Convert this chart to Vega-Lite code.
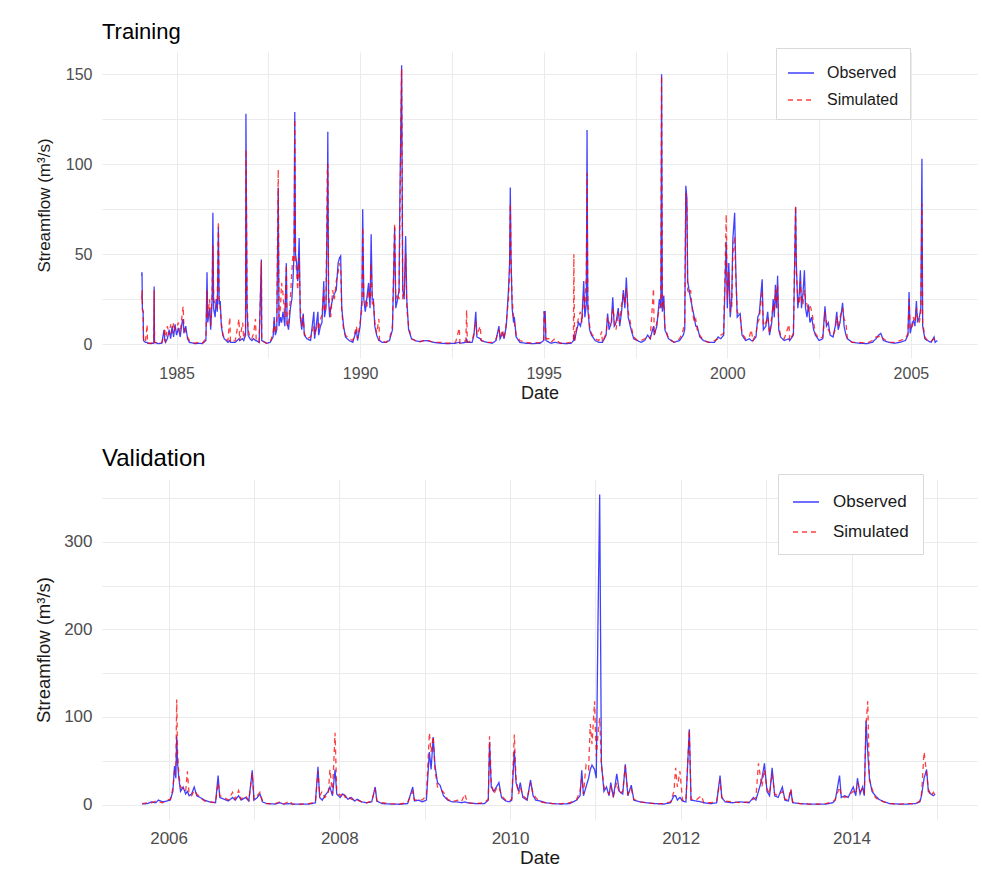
{
"$schema": "https://vega.github.io/schema/vega-lite/v6.json",
"background": "white",
"padding": {"left": 34, "top": 20, "right": 7, "bottom": 5},
"spacing": 44,
"config": {
  "font": "Liberation Sans",
  "view": {"stroke": null},
  "axis": {"grid": true, "gridColor": "#EBEBEB", "gridWidth": 1, "domain": false, "ticks": false, "labelColor": "#4D4D4D", "titleColor": "#1A1A1A", "titleFontWeight": "normal", "labelFont": "Liberation Sans", "titleFont": "Liberation Sans"},
  "title": {"anchor": "start", "frame": "group", "fontWeight": "normal", "color": "#000000", "font": "Liberation Sans"},
  "legend": {"symbolType": "stroke", "symbolSize": 676, "symbolStrokeWidth": 1.5, "labelColor": "#1A1A1A", "strokeColor": "#D9D9D9", "fillColor": "white", "labelFont": "Liberation Sans"}
},
"resolve": {"scale": {"x": "independent", "y": "independent", "color": "independent", "strokeDash": "independent"}, "legend": {"color": "independent", "strokeDash": "independent"}},
"datasets": {
"training": [
{"t":1984.05,"Observed":38,"Simulated":25},{"t":1984.06,"Observed":40,"Simulated":30},{"t":1984.07,"Observed":20,"Simulated":19},{"t":1984.09,"Observed":18,"Simulated":18},{"t":1984.10,"Observed":2,"Simulated":3},{"t":1984.15,"Observed":1,"Simulated":1},{"t":1984.20,"Observed":1,"Simulated":11},{"t":1984.21,"Observed":0.5,"Simulated":0.5},{"t":1984.30,"Observed":0.3,"Simulated":0.5},{"t":1984.38,"Observed":0.5,"Simulated":1},{"t":1984.39,"Observed":32,"Simulated":30},{"t":1984.40,"Observed":1,"Simulated":1},{"t":1984.5,"Observed":0.3,"Simulated":0.5},{"t":1984.6,"Observed":0.5,"Simulated":1},{"t":1984.66,"Observed":8,"Simulated":5},{"t":1984.68,"Observed":2,"Simulated":9},{"t":1984.70,"Observed":1,"Simulated":1},{"t":1984.75,"Observed":3,"Simulated":10},{"t":1984.8,"Observed":8,"Simulated":5},{"t":1984.84,"Observed":3,"Simulated":11},{"t":1984.88,"Observed":10,"Simulated":6},{"t":1984.92,"Observed":4,"Simulated":12},{"t":1984.96,"Observed":11,"Simulated":8},{"t":1985.0,"Observed":5,"Simulated":9},{"t":1985.05,"Observed":9,"Simulated":12},{"t":1985.1,"Observed":4,"Simulated":6},{"t":1985.15,"Observed":12,"Simulated":16},{"t":1985.18,"Observed":14,"Simulated":21},{"t":1985.2,"Observed":6,"Simulated":10},{"t":1985.25,"Observed":10,"Simulated":7},{"t":1985.3,"Observed":3,"Simulated":4},{"t":1985.35,"Observed":1,"Simulated":2},{"t":1985.5,"Observed":0.3,"Simulated":0.5},{"t":1985.6,"Observed":0.5,"Simulated":1},{"t":1985.7,"Observed":0.3,"Simulated":0.5},{"t":1985.8,"Observed":2,"Simulated":3},{"t":1985.83,"Observed":40,"Simulated":30},{"t":1985.85,"Observed":12,"Simulated":15},{"t":1985.9,"Observed":20,"Simulated":25},{"t":1985.93,"Observed":8,"Simulated":10},{"t":1985.97,"Observed":25,"Simulated":30},{"t":1985.99,"Observed":73,"Simulated":55},{"t":1986.01,"Observed":20,"Simulated":25},{"t":1986.05,"Observed":15,"Simulated":22},{"t":1986.08,"Observed":25,"Simulated":20},{"t":1986.11,"Observed":18,"Simulated":25},{"t":1986.14,"Observed":65,"Simulated":68},{"t":1986.16,"Observed":22,"Simulated":25},{"t":1986.19,"Observed":24,"Simulated":20},{"t":1986.22,"Observed":10,"Simulated":12},{"t":1986.26,"Observed":5,"Simulated":6},{"t":1986.3,"Observed":3,"Simulated":3},{"t":1986.4,"Observed":1,"Simulated":2},{"t":1986.45,"Observed":2,"Simulated":15},{"t":1986.47,"Observed":1,"Simulated":1},{"t":1986.6,"Observed":1,"Simulated":2},{"t":1986.7,"Observed":3,"Simulated":14},{"t":1986.72,"Observed":2,"Simulated":2},{"t":1986.8,"Observed":3,"Simulated":12},{"t":1986.83,"Observed":2,"Simulated":3},{"t":1986.88,"Observed":5,"Simulated":8},{"t":1986.89,"Observed":128,"Simulated":108},{"t":1986.9,"Observed":91,"Simulated":90},{"t":1986.92,"Observed":20,"Simulated":25},{"t":1986.95,"Observed":5,"Simulated":8},{"t":1987.0,"Observed":3,"Simulated":4},{"t":1987.05,"Observed":2,"Simulated":3},{"t":1987.1,"Observed":3,"Simulated":6},{"t":1987.15,"Observed":2,"Simulated":14},{"t":1987.17,"Observed":2,"Simulated":2},{"t":1987.25,"Observed":1,"Simulated":1},{"t":1987.31,"Observed":47,"Simulated":46},{"t":1987.32,"Observed":2,"Simulated":2},{"t":1987.45,"Observed":0.5,"Simulated":0.5},{"t":1987.55,"Observed":1,"Simulated":1},{"t":1987.63,"Observed":4,"Simulated":6},{"t":1987.66,"Observed":15,"Simulated":13},{"t":1987.69,"Observed":5,"Simulated":6},{"t":1987.73,"Observed":8,"Simulated":12},{"t":1987.77,"Observed":87,"Simulated":97},{"t":1987.79,"Observed":10,"Simulated":15},{"t":1987.83,"Observed":15,"Simulated":20},{"t":1987.86,"Observed":12,"Simulated":34},{"t":1987.9,"Observed":18,"Simulated":28},{"t":1987.95,"Observed":10,"Simulated":15},{"t":1987.99,"Observed":45,"Simulated":44},{"t":1988.01,"Observed":12,"Simulated":10},{"t":1988.05,"Observed":8,"Simulated":10},{"t":1988.1,"Observed":20,"Simulated":25},{"t":1988.14,"Observed":25,"Simulated":40},{"t":1988.17,"Observed":35,"Simulated":50},{"t":1988.2,"Observed":50,"Simulated":45},{"t":1988.22,"Observed":129,"Simulated":125},{"t":1988.24,"Observed":50,"Simulated":48},{"t":1988.27,"Observed":45,"Simulated":40},{"t":1988.3,"Observed":35,"Simulated":30},{"t":1988.34,"Observed":59,"Simulated":48},{"t":1988.37,"Observed":15,"Simulated":20},{"t":1988.41,"Observed":8,"Simulated":10},{"t":1988.45,"Observed":17,"Simulated":16},{"t":1988.48,"Observed":5,"Simulated":6},{"t":1988.55,"Observed":3,"Simulated":3},{"t":1988.65,"Observed":2,"Simulated":4},{"t":1988.74,"Observed":18,"Simulated":10},{"t":1988.76,"Observed":3,"Simulated":5},{"t":1988.85,"Observed":18,"Simulated":12},{"t":1988.87,"Observed":5,"Simulated":8},{"t":1988.92,"Observed":10,"Simulated":14},{"t":1988.96,"Observed":12,"Simulated":16},{"t":1989.01,"Observed":35,"Simulated":30},{"t":1989.03,"Observed":15,"Simulated":18},{"t":1989.07,"Observed":20,"Simulated":22},{"t":1989.11,"Observed":86,"Simulated":100},{"t":1989.12,"Observed":118,"Simulated":99},{"t":1989.14,"Observed":25,"Simulated":30},{"t":1989.17,"Observed":15,"Simulated":20},{"t":1989.2,"Observed":20,"Simulated":15},{"t":1989.25,"Observed":25,"Simulated":30},{"t":1989.3,"Observed":28,"Simulated":25},{"t":1989.35,"Observed":30,"Simulated":35},{"t":1989.4,"Observed":45,"Simulated":40},{"t":1989.44,"Observed":48,"Simulated":45},{"t":1989.47,"Observed":49,"Simulated":42},{"t":1989.5,"Observed":20,"Simulated":18},{"t":1989.55,"Observed":10,"Simulated":8},{"t":1989.6,"Observed":4,"Simulated":5},{"t":1989.7,"Observed":2,"Simulated":3},{"t":1989.8,"Observed":1,"Simulated":2},{"t":1989.9,"Observed":8,"Simulated":10},{"t":1989.93,"Observed":2,"Simulated":3},{"t":1990.0,"Observed":10,"Simulated":12},{"t":1990.05,"Observed":25,"Simulated":20},{"t":1990.07,"Observed":75,"Simulated":65},{"t":1990.1,"Observed":25,"Simulated":25},{"t":1990.14,"Observed":18,"Simulated":24},{"t":1990.18,"Observed":25,"Simulated":20},{"t":1990.23,"Observed":34,"Simulated":30},{"t":1990.27,"Observed":20,"Simulated":25},{"t":1990.3,"Observed":61,"Simulated":45},{"t":1990.33,"Observed":25,"Simulated":22},{"t":1990.36,"Observed":25,"Simulated":24},{"t":1990.4,"Observed":10,"Simulated":12},{"t":1990.45,"Observed":5,"Simulated":6},{"t":1990.51,"Observed":2,"Simulated":14},{"t":1990.53,"Observed":2,"Simulated":2},{"t":1990.6,"Observed":1,"Simulated":2},{"t":1990.7,"Observed":1,"Simulated":1},{"t":1990.8,"Observed":2,"Simulated":3},{"t":1990.88,"Observed":8,"Simulated":10},{"t":1990.94,"Observed":65,"Simulated":67},{"t":1990.97,"Observed":20,"Simulated":25},{"t":1991.02,"Observed":25,"Simulated":28},{"t":1991.06,"Observed":30,"Simulated":25},{"t":1991.08,"Observed":77,"Simulated":64},{"t":1991.13,"Observed":155,"Simulated":153},{"t":1991.16,"Observed":30,"Simulated":25},{"t":1991.2,"Observed":25,"Simulated":28},{"t":1991.24,"Observed":60,"Simulated":50},{"t":1991.27,"Observed":25,"Simulated":20},{"t":1991.32,"Observed":8,"Simulated":10},{"t":1991.4,"Observed":3,"Simulated":3},{"t":1991.5,"Observed":2,"Simulated":2},{"t":1991.6,"Observed":1.5,"Simulated":1},{"t":1991.8,"Observed":2,"Simulated":2.5},{"t":1992.0,"Observed":1,"Simulated":1},{"t":1992.2,"Observed":0.5,"Simulated":1},{"t":1992.4,"Observed":0.3,"Simulated":0.5},{"t":1992.6,"Observed":0.5,"Simulated":1},{"t":1992.7,"Observed":1,"Simulated":9},{"t":1992.72,"Observed":0.5,"Simulated":0.5},{"t":1992.88,"Observed":1,"Simulated":2},{"t":1992.9,"Observed":3,"Simulated":19},{"t":1992.92,"Observed":1,"Simulated":1},{"t":1993.05,"Observed":1,"Simulated":2},{"t":1993.1,"Observed":5,"Simulated":6},{"t":1993.15,"Observed":18,"Simulated":13},{"t":1993.18,"Observed":4,"Simulated":5},{"t":1993.27,"Observed":3,"Simulated":10},{"t":1993.3,"Observed":2,"Simulated":2},{"t":1993.45,"Observed":1,"Simulated":1},{"t":1993.6,"Observed":0.5,"Simulated":1},{"t":1993.7,"Observed":2,"Simulated":3},{"t":1993.78,"Observed":10,"Simulated":8},{"t":1993.81,"Observed":3,"Simulated":4},{"t":1993.88,"Observed":6,"Simulated":8},{"t":1993.92,"Observed":3,"Simulated":3},{"t":1993.98,"Observed":10,"Simulated":12},{"t":1994.04,"Observed":30,"Simulated":25},{"t":1994.07,"Observed":45,"Simulated":40},{"t":1994.09,"Observed":87,"Simulated":78},{"t":1994.11,"Observed":48,"Simulated":45},{"t":1994.14,"Observed":20,"Simulated":25},{"t":1994.18,"Observed":12,"Simulated":15},{"t":1994.2,"Observed":15,"Simulated":12},{"t":1994.25,"Observed":4,"Simulated":5},{"t":1994.35,"Observed":1,"Simulated":2},{"t":1994.5,"Observed":0.5,"Simulated":1},{"t":1994.7,"Observed":0.3,"Simulated":0.5},{"t":1994.9,"Observed":0.5,"Simulated":1},{"t":1995.0,"Observed":2,"Simulated":2},{"t":1995.01,"Observed":18,"Simulated":18},{"t":1995.04,"Observed":18,"Simulated":15},{"t":1995.06,"Observed":2,"Simulated":3},{"t":1995.15,"Observed":1,"Simulated":3},{"t":1995.2,"Observed":0.5,"Simulated":1},{"t":1995.3,"Observed":1,"Simulated":3},{"t":1995.45,"Observed":0.5,"Simulated":0.5},{"t":1995.6,"Observed":0.3,"Simulated":0.5},{"t":1995.75,"Observed":0.5,"Simulated":1},{"t":1995.81,"Observed":2,"Simulated":3},{"t":1995.82,"Observed":5,"Simulated":50},{"t":1995.84,"Observed":2,"Simulated":2},{"t":1995.9,"Observed":8,"Simulated":10},{"t":1995.95,"Observed":12,"Simulated":15},{"t":1996.0,"Observed":10,"Simulated":18},{"t":1996.04,"Observed":14,"Simulated":12},{"t":1996.09,"Observed":35,"Simulated":28},{"t":1996.12,"Observed":15,"Simulated":20},{"t":1996.16,"Observed":22,"Simulated":38},{"t":1996.18,"Observed":119,"Simulated":95},{"t":1996.2,"Observed":20,"Simulated":25},{"t":1996.25,"Observed":8,"Simulated":10},{"t":1996.3,"Observed":5,"Simulated":6},{"t":1996.4,"Observed":2,"Simulated":3},{"t":1996.5,"Observed":1,"Simulated":2},{"t":1996.58,"Observed":1,"Simulated":7},{"t":1996.6,"Observed":1,"Simulated":1},{"t":1996.7,"Observed":5,"Simulated":6},{"t":1996.74,"Observed":17,"Simulated":15},{"t":1996.78,"Observed":8,"Simulated":12},{"t":1996.84,"Observed":12,"Simulated":10},{"t":1996.88,"Observed":26,"Simulated":20},{"t":1996.92,"Observed":10,"Simulated":14},{"t":1996.97,"Observed":12,"Simulated":8},{"t":1997.03,"Observed":20,"Simulated":18},{"t":1997.07,"Observed":10,"Simulated":12},{"t":1997.12,"Observed":18,"Simulated":22},{"t":1997.17,"Observed":30,"Simulated":28},{"t":1997.21,"Observed":20,"Simulated":22},{"t":1997.25,"Observed":37,"Simulated":31},{"t":1997.3,"Observed":15,"Simulated":18},{"t":1997.38,"Observed":8,"Simulated":10},{"t":1997.45,"Observed":3,"Simulated":4},{"t":1997.55,"Observed":2,"Simulated":2},{"t":1997.65,"Observed":1,"Simulated":2},{"t":1997.75,"Observed":2,"Simulated":3},{"t":1997.83,"Observed":5,"Simulated":4},{"t":1997.9,"Observed":3,"Simulated":3},{"t":1997.99,"Observed":10,"Simulated":31},{"t":1998.01,"Observed":5,"Simulated":5},{"t":1998.08,"Observed":10,"Simulated":12},{"t":1998.15,"Observed":25,"Simulated":20},{"t":1998.19,"Observed":20,"Simulated":22},{"t":1998.21,"Observed":150,"Simulated":149},{"t":1998.23,"Observed":18,"Simulated":20},{"t":1998.27,"Observed":27,"Simulated":24},{"t":1998.3,"Observed":8,"Simulated":10},{"t":1998.4,"Observed":3,"Simulated":3},{"t":1998.55,"Observed":1,"Simulated":1},{"t":1998.7,"Observed":2,"Simulated":3},{"t":1998.8,"Observed":5,"Simulated":8},{"t":1998.84,"Observed":8,"Simulated":12},{"t":1998.87,"Observed":88,"Simulated":84},{"t":1998.9,"Observed":81,"Simulated":75},{"t":1998.92,"Observed":35,"Simulated":30},{"t":1998.96,"Observed":30,"Simulated":28},{"t":1999.0,"Observed":25,"Simulated":30},{"t":1999.05,"Observed":20,"Simulated":18},{"t":1999.1,"Observed":15,"Simulated":12},{"t":1999.14,"Observed":10,"Simulated":14},{"t":1999.18,"Observed":10,"Simulated":8},{"t":1999.25,"Observed":4,"Simulated":5},{"t":1999.35,"Observed":2,"Simulated":2},{"t":1999.5,"Observed":1,"Simulated":1},{"t":1999.65,"Observed":1,"Simulated":2},{"t":1999.75,"Observed":4,"Simulated":3},{"t":1999.82,"Observed":3,"Simulated":5},{"t":1999.9,"Observed":5,"Simulated":6},{"t":1999.97,"Observed":57,"Simulated":72},{"t":2000.0,"Observed":20,"Simulated":25},{"t":2000.04,"Observed":45,"Simulated":40},{"t":2000.08,"Observed":15,"Simulated":18},{"t":2000.12,"Observed":25,"Simulated":20},{"t":2000.15,"Observed":58,"Simulated":50},{"t":2000.2,"Observed":73,"Simulated":60},{"t":2000.23,"Observed":42,"Simulated":38},{"t":2000.27,"Observed":15,"Simulated":18},{"t":2000.35,"Observed":17,"Simulated":15},{"t":2000.4,"Observed":5,"Simulated":6},{"t":2000.5,"Observed":2,"Simulated":3},{"t":2000.6,"Observed":3,"Simulated":4},{"t":2000.65,"Observed":2,"Simulated":8},{"t":2000.7,"Observed":2,"Simulated":2},{"t":2000.78,"Observed":4,"Simulated":6},{"t":2000.83,"Observed":15,"Simulated":12},{"t":2000.87,"Observed":17,"Simulated":14},{"t":2000.95,"Observed":36,"Simulated":30},{"t":2000.98,"Observed":8,"Simulated":10},{"t":2001.05,"Observed":10,"Simulated":12},{"t":2001.1,"Observed":18,"Simulated":15},{"t":2001.15,"Observed":5,"Simulated":6},{"t":2001.21,"Observed":12,"Simulated":15},{"t":2001.25,"Observed":25,"Simulated":22},{"t":2001.28,"Observed":15,"Simulated":18},{"t":2001.31,"Observed":33,"Simulated":30},{"t":2001.34,"Observed":20,"Simulated":22},{"t":2001.37,"Observed":38,"Simulated":33},{"t":2001.4,"Observed":8,"Simulated":10},{"t":2001.45,"Observed":4,"Simulated":5},{"t":2001.55,"Observed":2,"Simulated":3},{"t":2001.68,"Observed":3,"Simulated":11},{"t":2001.7,"Observed":2,"Simulated":2},{"t":2001.8,"Observed":5,"Simulated":6},{"t":2001.86,"Observed":76,"Simulated":77},{"t":2001.88,"Observed":45,"Simulated":40},{"t":2001.92,"Observed":20,"Simulated":25},{"t":2001.96,"Observed":28,"Simulated":22},{"t":2001.99,"Observed":41,"Simulated":35},{"t":2002.02,"Observed":20,"Simulated":25},{"t":2002.06,"Observed":28,"Simulated":22},{"t":2002.1,"Observed":41,"Simulated":30},{"t":2002.13,"Observed":20,"Simulated":25},{"t":2002.17,"Observed":15,"Simulated":22},{"t":2002.21,"Observed":22,"Simulated":18},{"t":2002.25,"Observed":12,"Simulated":22},{"t":2002.3,"Observed":15,"Simulated":18},{"t":2002.35,"Observed":8,"Simulated":12},{"t":2002.4,"Observed":5,"Simulated":6},{"t":2002.5,"Observed":2,"Simulated":3},{"t":2002.6,"Observed":3,"Simulated":4},{"t":2002.66,"Observed":21,"Simulated":18},{"t":2002.7,"Observed":10,"Simulated":12},{"t":2002.75,"Observed":12,"Simulated":8},{"t":2002.8,"Observed":5,"Simulated":6},{"t":2002.88,"Observed":4,"Simulated":5},{"t":2002.94,"Observed":10,"Simulated":8},{"t":2002.98,"Observed":18,"Simulated":15},{"t":2003.02,"Observed":8,"Simulated":10},{"t":2003.07,"Observed":12,"Simulated":15},{"t":2003.14,"Observed":23,"Simulated":20},{"t":2003.18,"Observed":10,"Simulated":14},{"t":2003.23,"Observed":5,"Simulated":12},{"t":2003.27,"Observed":3,"Simulated":3},{"t":2003.4,"Observed":1,"Simulated":1},{"t":2003.6,"Observed":0.5,"Simulated":1},{"t":2003.8,"Observed":0.3,"Simulated":0.5},{"t":2003.95,"Observed":1,"Simulated":2},{"t":2004.05,"Observed":3,"Simulated":4},{"t":2004.12,"Observed":5,"Simulated":4},{"t":2004.18,"Observed":6,"Simulated":5},{"t":2004.25,"Observed":2,"Simulated":3},{"t":2004.4,"Observed":1,"Simulated":1},{"t":2004.55,"Observed":0.5,"Simulated":1},{"t":2004.7,"Observed":1,"Simulated":2},{"t":2004.85,"Observed":2,"Simulated":3},{"t":2004.92,"Observed":5,"Simulated":6},{"t":2004.95,"Observed":29,"Simulated":25},{"t":2004.98,"Observed":6,"Simulated":8},{"t":2005.04,"Observed":12,"Simulated":10},{"t":2005.07,"Observed":13,"Simulated":15},{"t":2005.11,"Observed":10,"Simulated":12},{"t":2005.15,"Observed":24,"Simulated":20},{"t":2005.18,"Observed":12,"Simulated":15},{"t":2005.23,"Observed":15,"Simulated":12},{"t":2005.27,"Observed":20,"Simulated":18},{"t":2005.3,"Observed":103,"Simulated":78},{"t":2005.32,"Observed":10,"Simulated":12},{"t":2005.38,"Observed":3,"Simulated":4},{"t":2005.45,"Observed":2,"Simulated":2},{"t":2005.55,"Observed":1,"Simulated":1.5},{"t":2005.63,"Observed":4,"Simulated":3},{"t":2005.66,"Observed":1,"Simulated":2},{"t":2005.72,"Observed":2,"Simulated":3}
],
"validation": [
{"t":2005.69,"Observed":0.5,"Simulated":1},{"t":2005.75,"Observed":1,"Simulated":2},{"t":2005.8,"Observed":3,"Simulated":2},{"t":2005.85,"Observed":2,"Simulated":4},{"t":2005.88,"Observed":5,"Simulated":3},{"t":2005.93,"Observed":3,"Simulated":2},{"t":2005.98,"Observed":4,"Simulated":5},{"t":2006.02,"Observed":5,"Simulated":6},{"t":2006.05,"Observed":15,"Simulated":18},{"t":2006.07,"Observed":44,"Simulated":40},{"t":2006.085,"Observed":30,"Simulated":45},{"t":2006.095,"Observed":78,"Simulated":120},{"t":2006.105,"Observed":48,"Simulated":60},{"t":2006.12,"Observed":30,"Simulated":35},{"t":2006.14,"Observed":15,"Simulated":20},{"t":2006.17,"Observed":20,"Simulated":18},{"t":2006.2,"Observed":12,"Simulated":15},{"t":2006.22,"Observed":15,"Simulated":38},{"t":2006.24,"Observed":10,"Simulated":12},{"t":2006.27,"Observed":12,"Simulated":10},{"t":2006.3,"Observed":20,"Simulated":16},{"t":2006.33,"Observed":10,"Simulated":12},{"t":2006.37,"Observed":8,"Simulated":8},{"t":2006.42,"Observed":5,"Simulated":4},{"t":2006.48,"Observed":3,"Simulated":3},{"t":2006.55,"Observed":2,"Simulated":2},{"t":2006.58,"Observed":33,"Simulated":25},{"t":2006.6,"Observed":8,"Simulated":10},{"t":2006.65,"Observed":6,"Simulated":8},{"t":2006.7,"Observed":4,"Simulated":5},{"t":2006.75,"Observed":8,"Simulated":14},{"t":2006.78,"Observed":5,"Simulated":6},{"t":2006.82,"Observed":10,"Simulated":16},{"t":2006.85,"Observed":5,"Simulated":6},{"t":2006.9,"Observed":8,"Simulated":10},{"t":2006.94,"Observed":4,"Simulated":5},{"t":2006.98,"Observed":39,"Simulated":36},{"t":2007.0,"Observed":5,"Simulated":6},{"t":2007.04,"Observed":8,"Simulated":10},{"t":2007.07,"Observed":12,"Simulated":14},{"t":2007.1,"Observed":3,"Simulated":4},{"t":2007.15,"Observed":1,"Simulated":1},{"t":2007.25,"Observed":0.5,"Simulated":1},{"t":2007.3,"Observed":2,"Simulated":3},{"t":2007.35,"Observed":0.5,"Simulated":0.5},{"t":2007.42,"Observed":1,"Simulated":4},{"t":2007.45,"Observed":0.5,"Simulated":0.5},{"t":2007.55,"Observed":0.3,"Simulated":0.5},{"t":2007.65,"Observed":0.5,"Simulated":1},{"t":2007.72,"Observed":2,"Simulated":3},{"t":2007.75,"Observed":43,"Simulated":38},{"t":2007.77,"Observed":8,"Simulated":10},{"t":2007.8,"Observed":5,"Simulated":15},{"t":2007.83,"Observed":10,"Simulated":8},{"t":2007.87,"Observed":15,"Simulated":12},{"t":2007.89,"Observed":20,"Simulated":40},{"t":2007.92,"Observed":10,"Simulated":12},{"t":2007.95,"Observed":40,"Simulated":82},{"t":2007.97,"Observed":12,"Simulated":15},{"t":2008.01,"Observed":8,"Simulated":10},{"t":2008.04,"Observed":12,"Simulated":14},{"t":2008.07,"Observed":10,"Simulated":8},{"t":2008.1,"Observed":6,"Simulated":10},{"t":2008.14,"Observed":8,"Simulated":6},{"t":2008.18,"Observed":4,"Simulated":5},{"t":2008.21,"Observed":6,"Simulated":5},{"t":2008.26,"Observed":3,"Simulated":3},{"t":2008.32,"Observed":2,"Simulated":2},{"t":2008.38,"Observed":3,"Simulated":4},{"t":2008.42,"Observed":20,"Simulated":18},{"t":2008.44,"Observed":4,"Simulated":4},{"t":2008.5,"Observed":1,"Simulated":2},{"t":2008.6,"Observed":0.5,"Simulated":1},{"t":2008.7,"Observed":0.3,"Simulated":0.5},{"t":2008.8,"Observed":1,"Simulated":2},{"t":2008.86,"Observed":20,"Simulated":15},{"t":2008.88,"Observed":4,"Simulated":5},{"t":2008.93,"Observed":5,"Simulated":6},{"t":2008.97,"Observed":3,"Simulated":5},{"t":2009.02,"Observed":5,"Simulated":10},{"t":2009.055,"Observed":60,"Simulated":82},{"t":2009.075,"Observed":40,"Simulated":60},{"t":2009.1,"Observed":77,"Simulated":78},{"t":2009.12,"Observed":45,"Simulated":40},{"t":2009.15,"Observed":25,"Simulated":20},{"t":2009.18,"Observed":22,"Simulated":18},{"t":2009.22,"Observed":10,"Simulated":14},{"t":2009.27,"Observed":5,"Simulated":6},{"t":2009.32,"Observed":3,"Simulated":3},{"t":2009.38,"Observed":3,"Simulated":5},{"t":2009.43,"Observed":2,"Simulated":3},{"t":2009.47,"Observed":3,"Simulated":12},{"t":2009.5,"Observed":2,"Simulated":2},{"t":2009.6,"Observed":1,"Simulated":1},{"t":2009.7,"Observed":1,"Simulated":2},{"t":2009.745,"Observed":5,"Simulated":6},{"t":2009.76,"Observed":71,"Simulated":78},{"t":2009.78,"Observed":20,"Simulated":25},{"t":2009.81,"Observed":15,"Simulated":12},{"t":2009.84,"Observed":20,"Simulated":18},{"t":2009.87,"Observed":25,"Simulated":20},{"t":2009.9,"Observed":8,"Simulated":10},{"t":2009.95,"Observed":4,"Simulated":5},{"t":2009.99,"Observed":3,"Simulated":4},{"t":2010.02,"Observed":5,"Simulated":6},{"t":2010.05,"Observed":62,"Simulated":80},{"t":2010.07,"Observed":25,"Simulated":30},{"t":2010.1,"Observed":15,"Simulated":12},{"t":2010.12,"Observed":25,"Simulated":20},{"t":2010.15,"Observed":8,"Simulated":10},{"t":2010.2,"Observed":5,"Simulated":6},{"t":2010.24,"Observed":28,"Simulated":25},{"t":2010.27,"Observed":10,"Simulated":12},{"t":2010.3,"Observed":5,"Simulated":8},{"t":2010.35,"Observed":4,"Simulated":3},{"t":2010.42,"Observed":2,"Simulated":2},{"t":2010.5,"Observed":1,"Simulated":1},{"t":2010.6,"Observed":0.5,"Simulated":1},{"t":2010.7,"Observed":1,"Simulated":2},{"t":2010.78,"Observed":5,"Simulated":6},{"t":2010.82,"Observed":10,"Simulated":15},{"t":2010.84,"Observed":39,"Simulated":30},{"t":2010.86,"Observed":10,"Simulated":12},{"t":2010.89,"Observed":20,"Simulated":45},{"t":2010.92,"Observed":30,"Simulated":40},{"t":2010.94,"Observed":40,"Simulated":92},{"t":2010.96,"Observed":45,"Simulated":69},{"t":2010.99,"Observed":40,"Simulated":118},{"t":2011.01,"Observed":30,"Simulated":55},{"t":2011.03,"Observed":207,"Simulated":80},{"t":2011.05,"Observed":354,"Simulated":99},{"t":2011.07,"Observed":48,"Simulated":45},{"t":2011.1,"Observed":15,"Simulated":20},{"t":2011.13,"Observed":20,"Simulated":15},{"t":2011.16,"Observed":10,"Simulated":12},{"t":2011.18,"Observed":25,"Simulated":20},{"t":2011.21,"Observed":8,"Simulated":10},{"t":2011.25,"Observed":35,"Simulated":25},{"t":2011.28,"Observed":15,"Simulated":12},{"t":2011.32,"Observed":12,"Simulated":15},{"t":2011.35,"Observed":46,"Simulated":44},{"t":2011.38,"Observed":10,"Simulated":12},{"t":2011.42,"Observed":22,"Simulated":18},{"t":2011.45,"Observed":5,"Simulated":6},{"t":2011.52,"Observed":3,"Simulated":3},{"t":2011.6,"Observed":2,"Simulated":2},{"t":2011.7,"Observed":1,"Simulated":1},{"t":2011.8,"Observed":0.5,"Simulated":1},{"t":2011.88,"Observed":2,"Simulated":3},{"t":2011.92,"Observed":10,"Simulated":15},{"t":2011.94,"Observed":10,"Simulated":42},{"t":2011.96,"Observed":5,"Simulated":20},{"t":2011.99,"Observed":8,"Simulated":38},{"t":2012.02,"Observed":4,"Simulated":5},{"t":2012.06,"Observed":3,"Simulated":4},{"t":2012.1,"Observed":86,"Simulated":85},{"t":2012.12,"Observed":5,"Simulated":6},{"t":2012.18,"Observed":4,"Simulated":5},{"t":2012.24,"Observed":3,"Simulated":10},{"t":2012.27,"Observed":2,"Simulated":2},{"t":2012.35,"Observed":1,"Simulated":2},{"t":2012.42,"Observed":2,"Simulated":3},{"t":2012.46,"Observed":33,"Simulated":28},{"t":2012.48,"Observed":8,"Simulated":8},{"t":2012.52,"Observed":3,"Simulated":4},{"t":2012.6,"Observed":2,"Simulated":3},{"t":2012.7,"Observed":3,"Simulated":2},{"t":2012.8,"Observed":2,"Simulated":3},{"t":2012.85,"Observed":8,"Simulated":6},{"t":2012.88,"Observed":5,"Simulated":8},{"t":2012.91,"Observed":15,"Simulated":47},{"t":2012.95,"Observed":29,"Simulated":20},{"t":2012.98,"Observed":47,"Simulated":40},{"t":2013.01,"Observed":15,"Simulated":18},{"t":2013.04,"Observed":10,"Simulated":12},{"t":2013.07,"Observed":42,"Simulated":35},{"t":2013.1,"Observed":10,"Simulated":12},{"t":2013.14,"Observed":8,"Simulated":10},{"t":2013.19,"Observed":20,"Simulated":15},{"t":2013.22,"Observed":5,"Simulated":6},{"t":2013.26,"Observed":4,"Simulated":5},{"t":2013.29,"Observed":16,"Simulated":18},{"t":2013.31,"Observed":2,"Simulated":3},{"t":2013.4,"Observed":1,"Simulated":1},{"t":2013.5,"Observed":0.5,"Simulated":0.5},{"t":2013.6,"Observed":0.3,"Simulated":0.5},{"t":2013.7,"Observed":0.5,"Simulated":1},{"t":2013.78,"Observed":2,"Simulated":3},{"t":2013.81,"Observed":5,"Simulated":6},{"t":2013.86,"Observed":33,"Simulated":20},{"t":2013.88,"Observed":8,"Simulated":10},{"t":2013.92,"Observed":10,"Simulated":8},{"t":2013.96,"Observed":8,"Simulated":10},{"t":2014.02,"Observed":20,"Simulated":15},{"t":2014.05,"Observed":10,"Simulated":12},{"t":2014.07,"Observed":30,"Simulated":25},{"t":2014.1,"Observed":12,"Simulated":15},{"t":2014.13,"Observed":20,"Simulated":18},{"t":2014.15,"Observed":10,"Simulated":12},{"t":2014.17,"Observed":96,"Simulated":90},{"t":2014.19,"Observed":60,"Simulated":118},{"t":2014.21,"Observed":30,"Simulated":28},{"t":2014.24,"Observed":15,"Simulated":18},{"t":2014.28,"Observed":10,"Simulated":8},{"t":2014.32,"Observed":6,"Simulated":5},{"t":2014.38,"Observed":3,"Simulated":3},{"t":2014.45,"Observed":1,"Simulated":1},{"t":2014.55,"Observed":0.5,"Simulated":0.5},{"t":2014.65,"Observed":0.5,"Simulated":1},{"t":2014.75,"Observed":1,"Simulated":1},{"t":2014.8,"Observed":3,"Simulated":4},{"t":2014.82,"Observed":10,"Simulated":12},{"t":2014.85,"Observed":30,"Simulated":60},{"t":2014.88,"Observed":40,"Simulated":35},{"t":2014.9,"Observed":15,"Simulated":18},{"t":2014.93,"Observed":12,"Simulated":10},{"t":2014.96,"Observed":10,"Simulated":14},{"t":2014.98,"Observed":12,"Simulated":10}
]
},
"vconcat": [
{
  "title": {"text": "Training", "fontSize": 22, "offset": 4},
  "width": 875, "height": 306,
  "data": {"name": "training"},
  "transform": [{"fold": ["Observed", "Simulated"], "as": ["series", "flow"]}],
  "mark": {"type": "line", "strokeWidth": 1.3, "opacity": 0.75},
  "encoding": {
    "x": {"field": "t", "type": "quantitative", "scale": {"domain": [1982.97, 2006.8], "nice": false, "zero": false},
      "axis": {"title": "Date", "values": [1985, 1987.5, 1990, 1992.5, 1995, 1997.5, 2000, 2002.5, 2005], "format": "d", "labelExpr": "datum.value % 5 == 0 ? datum.label : ''", "labelFontSize": 16, "labelPadding": 7, "titleFontSize": 18, "titlePadding": 3}},
    "y": {"field": "flow", "type": "quantitative", "scale": {"domain": [-7.7, 162.3], "nice": false, "zero": false},
      "axis": {"title": "Streamflow (m³/s)", "values": [0, 25, 50, 75, 100, 125, 150], "labelExpr": "datum.value % 50 == 0 ? datum.label : ''", "labelFontSize": 16, "labelPadding": 10, "titleFontSize": 17, "titlePadding": 12}},
    "color": {"field": "series", "type": "nominal", "scale": {"domain": ["Observed", "Simulated"], "range": ["#0000FF", "#FF0000"]},
      "legend": {"title": null, "orient": "none", "legendX": 674, "legendY": -4, "labelFontSize": 16, "padding": 11, "rowPadding": 5, "labelOffset": 12}},
    "strokeDash": {"field": "series", "type": "nominal", "scale": {"domain": ["Observed", "Simulated"], "range": [[1, 0], [5, 4]]},
      "legend": {"title": null, "orient": "none", "legendX": 674, "legendY": -4, "labelFontSize": 16, "padding": 11, "rowPadding": 5, "labelOffset": 12}}
  }
},
{
  "title": {"text": "Validation", "fontSize": 24, "offset": 3},
  "width": 875, "height": 341,
  "data": {"name": "validation"},
  "transform": [{"fold": ["Observed", "Simulated"], "as": ["series", "flow"]}],
  "mark": {"type": "line", "strokeWidth": 1.3, "opacity": 0.75},
  "encoding": {
    "x": {"field": "t", "type": "quantitative", "scale": {"domain": [2005.22, 2015.47], "nice": false, "zero": false},
      "axis": {"title": "Date", "values": [2006, 2007, 2008, 2009, 2010, 2011, 2012, 2013, 2014, 2015], "format": "d", "labelExpr": "datum.value % 2 == 0 ? datum.label : ''", "labelFontSize": 17, "labelPadding": 10, "titleFontSize": 19, "titlePadding": 2}},
    "y": {"field": "flow", "type": "quantitative", "scale": {"domain": [-17.7, 371.7], "nice": false, "zero": false},
      "axis": {"title": "Streamflow (m³/s)", "values": [0, 50, 100, 150, 200, 250, 300, 350], "labelExpr": "datum.value % 100 == 0 ? datum.label : ''", "labelFontSize": 17, "labelPadding": 10, "titleFontSize": 18.5, "titlePadding": 10}},
    "color": {"field": "series", "type": "nominal", "scale": {"domain": ["Observed", "Simulated"], "range": ["#0000FF", "#FF0000"]},
      "legend": {"title": null, "orient": "none", "legendX": 676, "legendY": -5, "labelFontSize": 17, "padding": 14, "rowPadding": 8, "labelOffset": 13}},
    "strokeDash": {"field": "series", "type": "nominal", "scale": {"domain": ["Observed", "Simulated"], "range": [[1, 0], [5, 4]]},
      "legend": {"title": null, "orient": "none", "legendX": 676, "legendY": -5, "labelFontSize": 17, "padding": 14, "rowPadding": 8, "labelOffset": 13}}
  }
}
]
}
